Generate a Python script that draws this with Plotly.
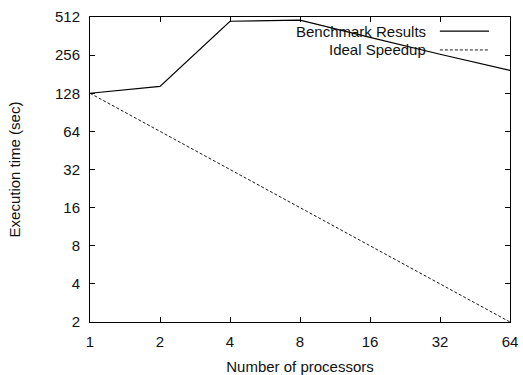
import plotly.graph_objects as go
import math

processors = [1, 2, 4, 8, 16, 32, 64]
benchmark = [128, 145, 474, 483, 354, 260, 194]
ideal = [128, 64, 32, 16, 8, 4, 2]
x_ticks = [1, 2, 4, 8, 16, 32, 64]
y_ticks = [2, 4, 8, 16, 32, 64, 128, 256, 512]
series_names = ["Benchmark Results", "Ideal Speedup"]

FONT = "Liberation Sans, Arial, Helvetica, sans-serif"
FS = 15

fig = go.Figure()
fig.add_trace(go.Scatter(x=processors, y=benchmark, mode="lines", name=series_names[0],
                         line=dict(color="black", width=1.2), showlegend=False, cliponaxis=False))
fig.add_trace(go.Scatter(x=processors, y=ideal, mode="lines", name=series_names[1],
                         line=dict(color="black", width=0.9, dash="3px,2px"), showlegend=False))

axis_common = dict(type="log", showgrid=False, zeroline=False, showline=True, linecolor="black",
                   linewidth=1, mirror="ticks", ticks="inside", ticklen=5, tickcolor="black",
                   automargin=False,
                   tickfont=dict(family=FONT, size=FS, color="#111"))

fig.update_xaxes(range=[0, math.log10(64)], tickvals=x_ticks, ticktext=[str(v) for v in x_ticks],
                 ticklabelstandoff=6,
                 title=dict(text="Number of processors", font=dict(family=FONT, size=FS, color="#111"), standoff=12),
                 **axis_common)
fig.update_yaxes(range=[math.log10(2), math.log10(512)], tickvals=y_ticks, ticktext=[str(v) for v in y_ticks],
                 ticklabelstandoff=6,
                 title=dict(text="Execution time (sec)", font=dict(family=FONT, size=FS, color="#111"), standoff=30),
                 **axis_common)

# gnuplot-style legend: text right-aligned, sample on the right
legend_rows = [(0.954, dict(color="black", width=1.2)), (0.892, dict(color="black", width=0.9, dash="3px,2px"))]
for name, (yy, ln) in zip(series_names, legend_rows):
    fig.add_annotation(x=0.805, y=yy, xref="paper", yref="paper", text=name, showarrow=False,
                       xanchor="right", yanchor="middle", font=dict(family=FONT, size=FS, color="#111"))
    fig.add_shape(type="line", xref="paper", yref="paper", x0=0.833, x1=0.95, y0=yy, y1=yy, line=ln)

fig.update_layout(width=523, height=375, margin=dict(l=90, r=13, t=17, b=53),
                  plot_bgcolor="white", paper_bgcolor="white", showlegend=False)

fig.write_html("out.html", config={"displayModeBar": False},
               post_script="document.body.style.margin='0';document.body.style.overflow='hidden';")
